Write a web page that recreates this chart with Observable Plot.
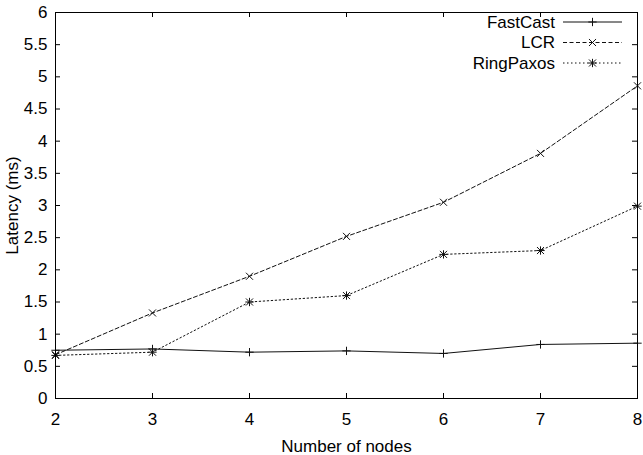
<!DOCTYPE html>
<html><head><meta charset="utf-8">
<script src="https://cdn.jsdelivr.net/npm/d3@7"></script>
<script src="https://cdn.jsdelivr.net/npm/@observablehq/plot@0.6"></script>
<style>body{margin:0;background:#fff} #chart{position:relative;width:643px;height:455px}</style>
</head><body><div id="chart"></div>
<script>
const nodes = [2, 3, 4, 5, 6, 7, 8];
const fastcast = [0.75, 0.77, 0.72, 0.74, 0.70, 0.84, 0.86];
const lcr = [0.68, 1.33, 1.90, 2.52, 3.05, 3.81, 4.86];
const ringpaxos = [0.67, 0.72, 1.50, 1.60, 2.24, 2.30, 2.99];
const seriesNames = ["FastCast", "LCR", "RingPaxos"];
const xTicks = [2, 3, 4, 5, 6, 7, 8];
const yTicks = [0, 0.5, 1, 1.5, 2, 2.5, 3, 3.5, 4, 4.5, 5, 5.5, 6];

const seriesValues = [fastcast, lcr, ringpaxos];
const data = [];
seriesNames.forEach((s, i) => nodes.forEach((n, j) => data.push({series: s, nodes: n, latency: seriesValues[i][j]})));

const W = 643, H = 455, mL = 55, mR = 6, mT = 12, mB = 57;
const plotW = W - mL - mR, plotH = H - mT - mB;
const font = "'Liberation Sans', Arial, Helvetica, sans-serif";
const FS = 17;
const dashes = {FastCast: null, LCR: "4,2.5", RingPaxos: "1.5,2.5"};
const lineColor = "#111";
const plusR = 2.8, timesR = 3.3;

const lineMarks = seriesNames.map(s => Plot.line(data.filter(d => d.series === s), {
  x: "nodes", y: "latency", stroke: lineColor, strokeWidth: 1, strokeDasharray: dashes[s]
}));
const sub = s => data.filter(d => d.series === s);

const chart = Plot.plot({
  width: W, height: H,
  marginLeft: mL, marginRight: mR, marginTop: mT, marginBottom: mB,
  style: {fontFamily: font, fontSize: FS + "px", background: "white", color: "black", overflow: "visible"},
  x: {domain: [2, 8]},
  y: {domain: [0, 6]},
  marks: [
    Plot.tickX(xTicks, {x: d => d, insetTop: plotH - 5, stroke: "black"}),
    Plot.tickX(xTicks, {x: d => d, insetBottom: plotH - 5, stroke: "black"}),
    Plot.tickY(yTicks, {y: d => d, insetRight: plotW - 5, stroke: "black"}),
    Plot.tickY(yTicks, {y: d => d, insetLeft: plotW - 5, stroke: "black"}),
    Plot.axisX({ticks: xTicks, tickSize: 0, tickPadding: 14, tickFormat: d => String(d), fontSize: FS,
      label: "Number of nodes", labelAnchor: "center", labelArrow: "none", labelOffset: 53}),
    Plot.axisY({ticks: yTicks, tickSize: 0, tickPadding: 8, tickFormat: d => String(d), fontSize: FS,
      label: "Latency (ms)", labelAnchor: "center", labelArrow: "none", labelOffset: 50}),
    ...lineMarks,
    Plot.dot(sub("FastCast"), {x: "nodes", y: "latency", symbol: "plus", r: plusR, stroke: lineColor, strokeWidth: 1}),
    Plot.dot(sub("LCR"), {x: "nodes", y: "latency", symbol: "times", r: timesR, stroke: lineColor, strokeWidth: 1}),
    Plot.dot(sub("RingPaxos"), {x: "nodes", y: "latency", symbol: "plus", r: plusR, stroke: lineColor, strokeWidth: 1}),
    Plot.dot(sub("RingPaxos"), {x: "nodes", y: "latency", symbol: "times", r: timesR, stroke: lineColor, strokeWidth: 1}),
    Plot.frame({stroke: "black", strokeWidth: 1})
  ]
});
document.getElementById("chart").appendChild(chart);

// Legend inside the plot, top right (gnuplot style)
const svg = d3.select(chart);
const lg = svg.append("g").attr("font-family", font).attr("font-size", FS);
const symbols = {FastCast: [[d3.symbolPlus, plusR]], LCR: [[d3.symbolTimes, timesR]], RingPaxos: [[d3.symbolPlus, plusR], [d3.symbolTimes, timesR]]};
seriesNames.forEach((s, i) => {
  const cy = 22 + i * 20.5;
  lg.append("text").attr("x", 555).attr("y", cy).attr("dy", "0.35em").attr("text-anchor", "end").attr("fill", "black").text(s);
  lg.append("line").attr("x1", 563).attr("x2", 622).attr("y1", cy).attr("y2", cy)
    .attr("stroke", lineColor).attr("stroke-width", 1).attr("stroke-dasharray", dashes[s]);
  symbols[s].forEach(([sym, r]) => {
    lg.append("path").attr("transform", `translate(592.5,${cy})`)
      .attr("d", d3.symbol(sym, Math.PI * r * r)()).attr("fill", "none").attr("stroke", lineColor);
  });
});
</script></body></html>
